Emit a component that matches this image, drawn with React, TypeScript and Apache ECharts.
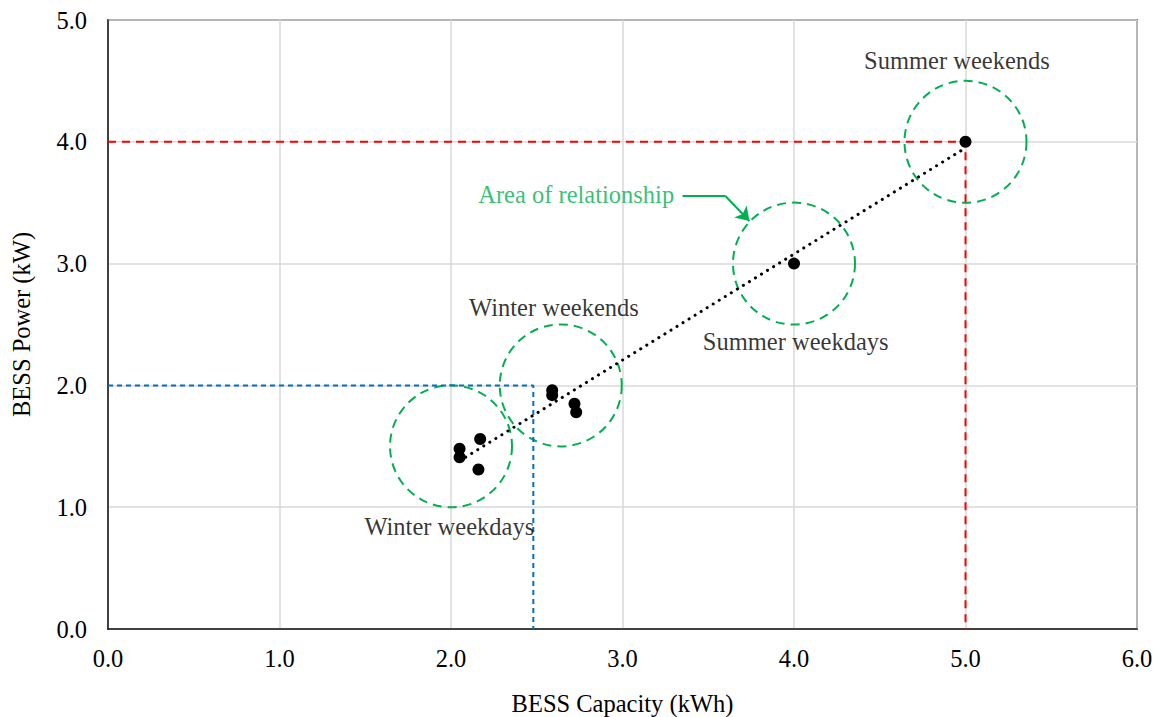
import React, { useEffect, useRef } from "react";
import * as echarts from "echarts";

const pointsX = [2.05, 2.05, 2.17, 2.16, 2.59, 2.59, 2.72, 2.73, 4.0, 5.0];
const pointsY = [1.48, 1.41, 1.56, 1.31, 1.96, 1.92, 1.85, 1.78, 3.0, 4.0];

const trendStart = [2.05, 1.38];
const trendEnd = [5.0, 3.95];

const circleCenters = [
  [2.0, 1.5],
  [2.64, 2.0],
  [4.0, 3.0],
  [5.0, 4.0],
];

const redGuide = [
  [0, 4],
  [5, 4],
  [5, 0],
];
const blueGuide = [
  [0, 2],
  [2.48, 2],
  [2.48, 0],
];

const labelTexts = ["Summer weekends", "Summer weekdays", "Winter weekends", "Winter weekdays"];
const labelX = [4.95, 4.01, 2.6, 1.99];
const labelY = [4.67, 2.36, 2.64, 0.84];

const areaLabel = "Area of relationship";
const areaLabelPos = [2.73, 3.57];
const arrowStart = [3.35, 3.555];
const arrowBend = [3.6, 3.555];
const arrowTip = [3.74, 3.35];

const xTicks = { min: 0, max: 6, interval: 1 };
const yTicks = { min: 0, max: 5, interval: 1 };

const FONT = "Liberation Serif";
const FS = 24.5;

export default function App() {
  const ref = useRef<HTMLDivElement>(null);
  useEffect(() => {
    document.body.style.margin = "0";
    const chart = echarts.init(ref.current!, null, { renderer: "svg" });
    const green = "#00b050";
    chart.setOption({
      animation: false,
      backgroundColor: "#fff",
      grid: {
        left: 108,
        right: 21,
        top: 20,
        bottom: 88,
        outerBoundsMode: "none",
        containLabel: false,
        show: true,
        borderColor: "#1a1a1a",
        borderWidth: 1.5,
      },
      xAxis: {
        type: "value",
        ...xTicks,
        name: "BESS Capacity (kWh)",
        nameLocation: "middle",
        nameGap: 62,
        nameTextStyle: { fontFamily: FONT, fontSize: FS, color: "#000" },
        axisLine: { show: true, lineStyle: { color: "#1a1a1a", width: 1.5 } },
        axisTick: { show: false },
        axisLabel: {
          margin: 17,
          fontFamily: FONT,
          fontSize: FS,
          color: "#000",
          formatter: (v: number) => v.toFixed(1),
        },
        splitLine: { show: true, lineStyle: { color: "#d9d9d9", width: 1.5 } },
      },
      yAxis: {
        type: "value",
        ...yTicks,
        name: "BESS Power (kW)",
        nameLocation: "middle",
        nameGap: 74,
        nameTextStyle: { fontFamily: FONT, fontSize: FS, color: "#000" },
        axisLine: { show: true, lineStyle: { color: "#1a1a1a", width: 1.5 } },
        axisTick: { show: false },
        axisLabel: {
          margin: 21,
          fontFamily: FONT,
          fontSize: FS,
          color: "#000",
          formatter: (v: number) => v.toFixed(1),
        },
        splitLine: { show: true, lineStyle: { color: "#d9d9d9", width: 1.5 } },
      },
      series: [
        {
          type: "scatter",
          data: circleCenters,
          symbol: "circle",
          symbolSize: 122,
          silent: true,
          itemStyle: {
            color: "transparent",
            borderColor: green,
            borderWidth: 2,
            borderType: [9, 6],
            opacity: 1,
          },
          z: 1,
        },
        {
          type: "line",
          data: redGuide,
          symbol: "none",
          lineStyle: { color: "#ff0000", width: 2, type: [8, 6] },
          z: 2,
        },
        {
          type: "line",
          data: blueGuide,
          symbol: "none",
          lineStyle: { color: "#0070c0", width: 2, type: [5, 4] },
          z: 2,
        },
        {
          type: "line",
          data: [trendStart, trendEnd],
          symbol: "none",
          lineStyle: { color: "#000", width: 3, type: [0.1, 7], cap: "round" },
          z: 3,
        },
        {
          type: "scatter",
          data: pointsX.map((x, i) => [x, pointsY[i]]),
          symbol: "circle",
          symbolSize: 12,
          itemStyle: { color: "#000", opacity: 1 },
          z: 4,
        },
        {
          type: "lines",
          coordinateSystem: "cartesian2d",
          data: [{ coords: [arrowStart, arrowBend] }],
          symbol: ["none", "none"],
          lineStyle: { color: green, width: 2, opacity: 1 },
          z: 4,
        },
        {
          type: "lines",
          coordinateSystem: "cartesian2d",
          data: [{ coords: [arrowBend, arrowTip] }],
          symbol: ["none", "arrow"],
          symbolSize: 13,
          lineStyle: { color: green, width: 2, opacity: 1 },
          z: 4,
        },
        {
          type: "scatter",
          data: labelTexts.map((t, i) => ({ value: [labelX[i], labelY[i]], name: t })),
          symbolSize: 0,
          silent: true,
          label: {
            show: true,
            position: "inside",
            formatter: (p: any) => p.name,
            fontFamily: FONT,
            fontSize: FS,
            color: "#000",
          },
          z: 5,
        },
        {
          type: "scatter",
          data: [{ value: areaLabelPos, name: areaLabel }],
          symbolSize: 0,
          silent: true,
          label: {
            show: true,
            position: "inside",
            formatter: (p: any) => p.name,
            fontFamily: FONT,
            fontSize: FS,
            color: green,
          },
          z: 5,
        },
      ],
    });
    return () => chart.dispose();
  }, []);
  return <div ref={ref} style={{ width: 1158, height: 717 }} />;
}
